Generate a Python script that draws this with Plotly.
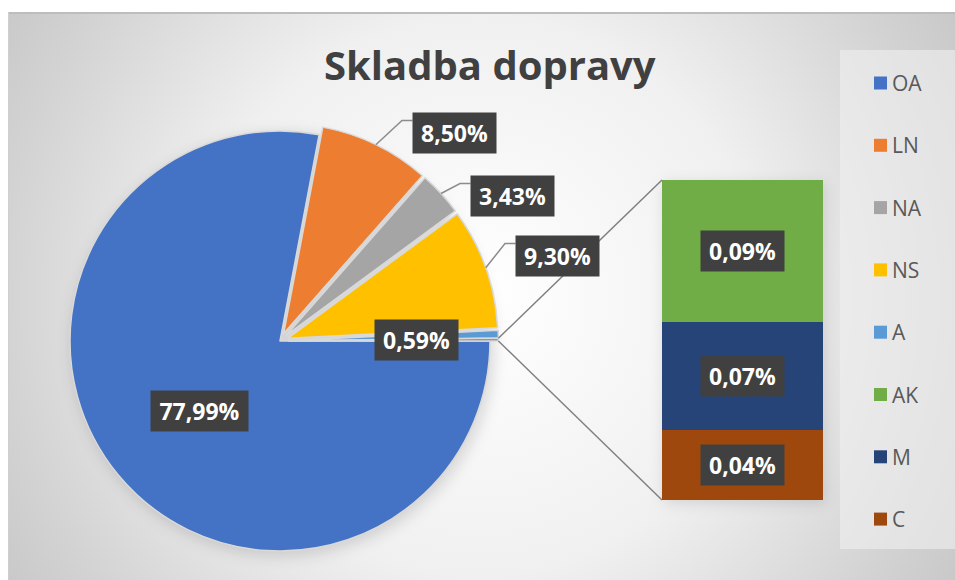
import math
import base64
import plotly.graph_objects as go

W, H = 955, 580

title_text = "Skladba dopravy"
pie_labels = ["OA", "LN", "NA", "NS", "A"]
pie_values = [77.99, 8.50, 3.43, 9.30, 0.59]
pie_colors = ["#4472c4", "#ed7d31", "#a5a5a5", "#ffc000", "#5b9bd5"]
bar_labels = ["AK", "M", "C"]
bar_values = [0.0888, 0.0675, 0.0440]
bar_colors = ["#70ad47", "#264478", "#9e480e"]
other_color = "#7f7f7f"
legend_labels = pie_labels + bar_labels
legend_colors = pie_colors + bar_colors

# label box centres (px) for the pie labels, as placed in the original
pie_label_pos = {"OA": (199, 411), "LN": (454, 133), "NA": (512, 196),
                 "NS": (557, 256), "A": (416, 340)}
leader_for = ["LN", "NA", "NS"]


def fmt(v):
    return f"{v:.2f}".replace(".", ",") + "%"


def X(px):
    return px / W


def Y(py):
    return 1 - py / H


# geometry (pixels)
CX, CY, R = 280, 341, 210
PULL = 0.04
half = R * (1 + PULL)
BAR_L, BAR_R, BAR_T, BAR_B = 662, 823, 180, 500

other_value = sum(bar_values)
all_vals = pie_values + [other_value]
pulls = [0] + [PULL] * (len(all_vals) - 1)
total = sum(all_vals)

# angle bookkeeping (clockwise from 12 o'clock, starting at 3 o'clock)
angles = []
a = 90.0
for v in all_vals:
    span = 360.0 * v / total
    angles.append((a, a + span))
    a += span


def slice_geom(i):
    a0, a1 = angles[i]
    mid = math.radians((a0 + a1) / 2)
    ox = CX + pulls[i] * R * math.sin(mid)
    oy = CY - pulls[i] * R * math.cos(mid)
    return ox, oy, a0, a1, mid


# ---------- background svg ----------
svg = f'''<svg xmlns="http://www.w3.org/2000/svg" width="{W}" height="{H}" viewBox="0 0 {W} {H}">
<defs>
<radialGradient id="g" gradientUnits="userSpaceOnUse" cx="480" cy="296" r="560">
<stop offset="0" stop-color="#ffffff"/>
<stop offset="0.5" stop-color="#f0f0f0"/>
<stop offset="0.85" stop-color="#d3d3d3"/>
<stop offset="1" stop-color="#c8c8c8"/>
</radialGradient>
<filter id="b" x="-30%" y="-30%" width="160%" height="160%"><feGaussianBlur stdDeviation="7"/></filter>
</defs>
<rect x="0" y="0" width="{W}" height="{H}" fill="#ffffff"/>
<rect x="8" y="12" width="{W-8}" height="{H-12}" fill="url(#g)"/>
<line x1="8" y1="13" x2="{W}" y2="13" stroke="#bdbdbd" stroke-width="2"/>
<line x1="8.5" y1="12" x2="8.5" y2="{H}" stroke="#cfcfcf" stroke-width="1"/>
<circle cx="{CX+3}" cy="{CY+4}" r="{R+2}" fill="#000000" fill-opacity="0.13" filter="url(#b)"/>
<rect x="{BAR_L+2}" y="{BAR_T+3}" width="{BAR_R-BAR_L}" height="{BAR_B-BAR_T}" fill="#000000" fill-opacity="0.12" filter="url(#b)"/>
</svg>'''
svg_uri = "data:image/svg+xml;base64," + base64.b64encode(svg.encode()).decode()

fig = go.Figure()

fig.add_trace(go.Pie(
    labels=pie_labels + ["Other"], values=all_vals, sort=False,
    direction="clockwise", rotation=90, pull=pulls,
    marker=dict(colors=pie_colors + [other_color],
                line=dict(color="#d9d9d9", width=1.5)),
    textinfo="none", hoverinfo="label+value", showlegend=False,
    domain=dict(x=[X(CX - half), X(CX + half)], y=[Y(CY + half), Y(CY - half)]),
))

for lab, val, col in reversed(list(zip(bar_labels, bar_values, bar_colors))):
    fig.add_trace(go.Bar(
        x=[0], y=[val], name=lab, width=1,
        marker=dict(color=col, line=dict(width=0)),
        showlegend=False, hoverinfo="name+y",
    ))

shapes = []
annotations = []

LBL_FONT = dict(family="Open Sans", size=23, color="#ffffff")
BOX_BG = "#404040"


def box_w(text):
    return 14 * len(text) + 13


# pie labels
for lab, val in zip(pie_labels, pie_values):
    txt = fmt(val)
    px, py = pie_label_pos[lab]
    annotations.append(dict(
        x=X(px), y=Y(py), xref="paper", yref="paper", text=f"<b>{txt}</b>",
        xanchor="center", yanchor="middle",
        showarrow=False, bgcolor=BOX_BG, borderpad=0, width=box_w(txt), height=40,
        font=LBL_FONT, align="center", valign="middle",
    ))
    if lab in leader_for:
        i = pie_labels.index(lab)
        ox, oy, a0, a1, mid = slice_geom(i)
        x0 = ox + R * math.sin(mid)
        y0 = oy - R * math.cos(mid)
        bl = px - box_w(txt) / 2
        bt = py - 20
        ex, ey = bl - 10.5, bt + 7.5
        path = f"M {X(x0)},{Y(y0)} L {X(ex)},{Y(ey)} L {X(bl)},{Y(ey)}"
        shapes.append(dict(type="path", path=path, xref="paper", yref="paper",
                           line=dict(color="#8c8c8c", width=1.5)))

# bar labels
cum = 0
for lab, val in reversed(list(zip(bar_labels, bar_values))):
    txt = fmt(val)
    annotations.append(dict(
        x=0, y=cum + val / 2, xref="x", yref="y", text=f"<b>{txt}</b>",
        xanchor="center", yanchor="middle",
        showarrow=False, bgcolor=BOX_BG, borderpad=0, width=box_w(txt), height=40,
        font=LBL_FONT, align="center", valign="middle",
    ))
    cum += val

# connector lines from the "other" slice to the bar
oi = len(all_vals) - 1
ox, oy, a0, a1, mid = slice_geom(oi)
c0 = (ox + R * math.sin(math.radians(a0)), oy - R * math.cos(math.radians(a0)))
c1 = (ox + R * math.sin(math.radians(a1)), oy - R * math.cos(math.radians(a1)))
for (sx_, sy_), (tx, ty) in [(c0, (BAR_L, BAR_T)), (c1, (BAR_L, BAR_B))]:
    shapes.append(dict(type="line", xref="paper", yref="paper",
                       x0=X(sx_), y0=Y(sy_), x1=X(tx), y1=Y(ty),
                       line=dict(color="#808080", width=1.5)))

# legend box + items
shapes.append(dict(type="rect", xref="paper", yref="paper", layer="below",
                   x0=X(840), x1=X(W), y0=Y(549), y1=Y(50),
                   fillcolor="rgba(240,240,240,0.6)", line=dict(width=0)))
for k, (lab, col) in enumerate(zip(legend_labels, legend_colors)):
    yc = 83 + k * 62.3
    shapes.append(dict(type="rect", xref="paper", yref="paper",
                       x0=X(874), x1=X(887), y0=Y(yc + 6.5), y1=Y(yc - 6.5),
                       fillcolor=col, line=dict(width=0)))
    annotations.append(dict(x=X(890), y=Y(yc), xref="paper", yref="paper",
                            text=lab, showarrow=False, xanchor="left", yanchor="middle",
                            font=dict(family="Open Sans", size=21, color="#595959")))

# title
annotations.append(dict(x=X(490), y=Y(65), xref="paper", yref="paper",
                        text=f"<b>{title_text}</b>", showarrow=False,
                        xanchor="center", yanchor="middle",
                        font=dict(family="Open Sans", size=40, color="#404040")))

fig.update_layout(
    width=W, height=H, autosize=False,
    margin=dict(l=0, r=0, t=0, b=0),
    paper_bgcolor="#ffffff", plot_bgcolor="rgba(0,0,0,0)",
    barmode="stack", bargap=0,
    xaxis=dict(domain=[X(BAR_L), X(BAR_R)], range=[-0.5, 0.5], visible=False, fixedrange=True),
    yaxis=dict(domain=[Y(BAR_B), Y(BAR_T)], range=[0, other_value], visible=False, fixedrange=True),
    shapes=shapes, annotations=annotations,
    images=[dict(source=svg_uri, xref="paper", yref="paper", x=0, y=1,
                 sizex=1, sizey=1, sizing="stretch", xanchor="left", yanchor="top",
                 layer="below")],
    showlegend=False,
)

fig.write_html("out.html", config={"displayModeBar": False},
               post_script="document.body.style.margin='0';document.body.style.overflow='hidden';")
